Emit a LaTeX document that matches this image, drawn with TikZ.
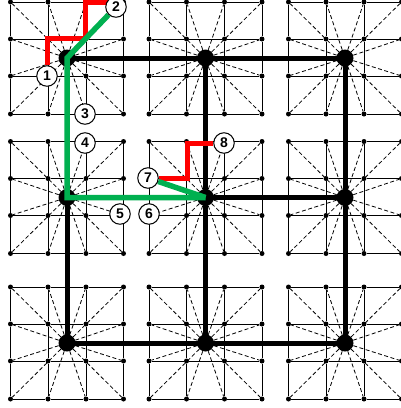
\documentclass[tikz,border=0pt]{standalone}
\usepackage{fontspec}
\setsansfont{Liberation Sans}
\usepackage{tikz}
\usetikzlibrary{backgrounds}
\definecolor{routered}{RGB}{255,0,0}
\definecolor{routegreen}{RGB}{0,176,80}

\begin{document}
\begin{tikzpicture}[x=1pt, y=-1pt,
    griddot/.style={circle, fill=black, inner sep=0pt, minimum size=5pt},
    hubdot/.style={circle, fill=black, inner sep=0pt, minimum size=17pt},
    numdot/.style={circle, draw=black, fill=white, line width=1pt, inner sep=0pt, minimum size=20.5pt, font=\sffamily\bfseries\fontsize{14}{14}\selectfont},
    gridline/.style={line width=1pt},
    spoke/.style={line width=0.8pt, dash pattern=on 4pt off 2.5pt},
    trunk/.style={line width=5pt},
    redroute/.style={routered, line width=5pt},
    greenroute/.style={routegreen, line width=5.5pt}]
    \useasboundingbox (0,0) rectangle (400,408);

    \node[numdot] (c1) at (47,76) {1};
    \node[numdot] (c2) at (116,7) {2};
    \node[numdot] (c3) at (85,114) {3};
    \node[numdot] (c4) at (85,143) {4};
    \node[numdot] (c5) at (120,214) {5};
    \node[numdot] (c6) at (149,214) {6};
    \node[numdot] (c7) at (148,178) {7};
    \node[numdot] (c8) at (224,143) {8};

    \coordinate (r1) at (47,38);
    \coordinate (r2) at (85,38);
    \coordinate (r3) at (85,2);
    \coordinate (r4) at (187,178);
    \coordinate (r5) at (187,143);

    \begin{scope}[on background layer]
    \foreach \row/\ypos in {1/58,2/197.5,3/343} {
        \foreach \col/\xpos in {1/67,2/205.5,3/345} {
            \foreach \i/\dy in {1/-56,2/-19,3/18,4/56} {
                \foreach \j/\dx in {1/-56.5,2/-19,3/19,4/56.5} {
                    \node[griddot] (n\row\col-\i\j) at (\xpos+\dx,\ypos+\dy) {};
                }
            }
            \node[hubdot] (h\row\col) at (\xpos,\ypos) {};
            \foreach \k in {1,2,3,4} {
                \draw[gridline] (n\row\col-\k1)--(n\row\col-\k2)--(n\row\col-\k3)--(n\row\col-\k4);
                \draw[gridline] (n\row\col-1\k)--(n\row\col-2\k)--(n\row\col-3\k)--(n\row\col-4\k);
            }
            \foreach \i/\j in {1/1,1/2,1/3,1/4,2/1,2/4,3/1,3/4,4/1,4/2,4/3,4/4} {
                \draw[spoke] (h\row\col)--(n\row\col-\i\j);
            }
        }
    }

    \draw[trunk] (h11.center)--(h12.center)--(h13.center)--(h23.center)--(h33.center)--(h32.center)--(h31.center)--(h21.center)--cycle;
    \draw[trunk] (h21.center)--(h22.center)--(h23.center);
    \draw[trunk] (h12.center)--(h22.center)--(h32.center);

    \draw[redroute] (c1)--(r1)--(r2)--(r3)--(r3-|c2);
    \draw[redroute] (c7)--(r4)--(r5)--(c8);
    \draw[greenroute] (c2)--(h11.center)--(h21.center)--(h22.center);
    \draw[greenroute] (c7)--(h22.center);
    \end{scope}
\end{tikzpicture}
\end{document}
